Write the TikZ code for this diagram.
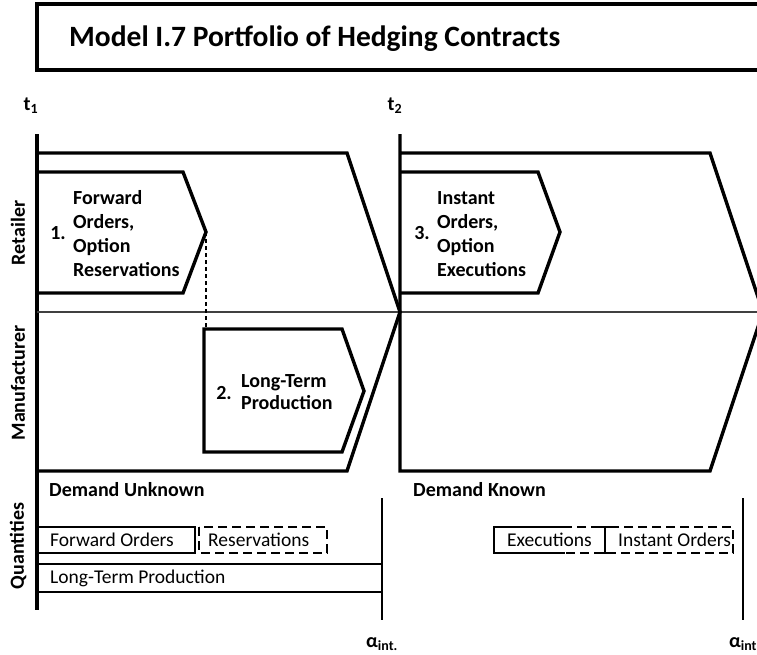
\documentclass[tikz,border=0pt]{standalone}
\usepackage{fontspec}
\setmainfont{Carlito}
\begin{document}
\begin{tikzpicture}[x=1pt,y=-1pt,
  heavy/.style={line width=3.4pt, line join=miter},
  qbox/.style={line width=2.8pt},
  qdash/.style={line width=2.8pt, dash pattern=on 9pt off 5pt},
  lbl/.style={font=\bfseries\fontsize{20}{24}\selectfont, inner sep=0pt},
  qtxt/.style={font=\fontsize{19.5}{23}\selectfont, inner sep=0pt, anchor=west},
  multi/.style={lbl, align=left, anchor=west},
  side/.style={lbl, rotate=90}]
\useasboundingbox (0,0) rectangle (757,654);
% title
\draw[line width=3.8pt] (765,4) -- (37,4) -- (37,70) -- (765,70);
\node[font=\bfseries\fontsize{29.5}{34}\selectfont, anchor=base west, inner sep=0pt] (title) at (69,46) {Model I.7 Portfolio of Hedging Contracts};
% time labels
\node[lbl] (t1) at (31,106) {t\textsubscript{1}};
\node[lbl] (t2) at (395,106) {t\textsubscript{2}};
% axis lines
\draw[heavy] (37,134) -- (37,610);
\draw[line width=1.2pt, black!75] (37,312) -- (757,312);
% big pentagons
\draw[heavy] (37,153) -- (347,153) -- (400,312) -- (347,471) -- (37,471);
\draw[heavy] (400,134) -- (400,471) -- (710,471) -- (763,312) -- (710,153) -- (400,153);
% box 1
\draw[heavy] (37,172) -- (183,172) -- (206,232) -- (183,293) -- (37,293);
\coordinate (b1tip) at (206,232);
\node[lbl] (n1) at (58,233) {1.};
\node[multi] (b1) at (73,234) {Forward\\Orders,\\Option\\Reservations};
% box 3
\draw[heavy] (400,172) -- (538,172) -- (560,232) -- (538,293) -- (400,293);
\node[lbl] (n3) at (422,233) {3.};
\node[multi] (b3) at (437,234) {Instant\\Orders,\\Option\\Executions};
% box 2
\draw[heavy] (204,329) -- (342,329) -- (364,391) -- (342,452) -- (204,452) -- cycle;
\coordinate (b2top) at (206,329);
\node[lbl] (n2) at (224,393) {2.};
\node[multi, font=\bfseries\fontsize{20}{22}\selectfont] (b2) at (241,392) {Long-Term\\Production};
\draw[line width=1.1pt, dash pattern=on 4pt off 3pt] (b1tip) -- (b2top);
% side labels
\node[side] (ret) at (18,233) {Retailer};
\node[side] (man) at (18,383) {Manufacturer};
\node[side] (qua) at (18,546) {Quantities};
% demand labels
\node[lbl, anchor=west] (du) at (49,490) {Demand Unknown};
\node[lbl, anchor=west] (dk) at (413,490) {Demand Known};
% quantities left
\draw[qbox] (37,527) rectangle (195,553);
\node[qtxt] (fo) at (50,540) {Forward Orders};
\draw[qdash] (199,527) rectangle (327,553);
\node[qtxt] (res) at (208,540) {Reservations};
\draw[qbox] (37,564) rectangle (382,592);
\node[qtxt] (ltp) at (50,578) {Long-Term Production};
\draw[qbox] (382,498) -- (382,620);
\node[lbl] (a1) at (382,644) {α\textsubscript{int.}};
% quantities right
\draw[qdash] (494,527) rectangle (605,553);
\draw[qbox] (565,527) -- (494,527) -- (494,553) -- (565,553);
\draw[qbox] (605,527) -- (605,553);
\draw[qbox] (598,527) -- (612,527);
\draw[qbox] (598,553) -- (612,553);
\node[qtxt] (ex) at (507,540) {Executions};
\draw[qdash] (605,527) rectangle (733,553);
\node[qtxt] (io) at (618,540) {Instant Orders};
\draw[qbox] (743,498) -- (743,620);
\node[lbl] (a2) at (743,644) {α\textsubscript{int}};
\end{tikzpicture}
\end{document}
